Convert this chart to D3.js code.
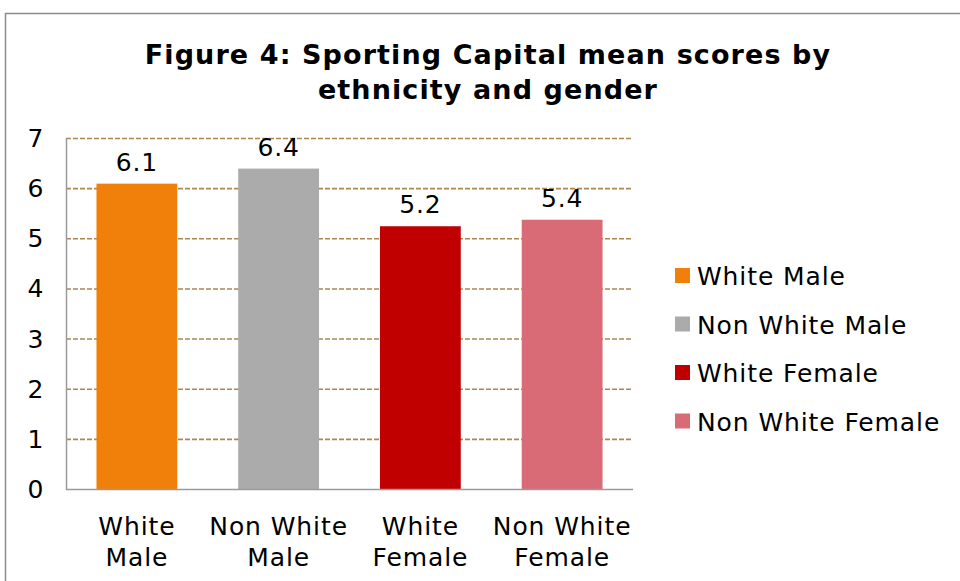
<!DOCTYPE html>
<html>
<head>
<meta charset="utf-8">
<script src="https://cdn.jsdelivr.net/npm/d3@7"></script>
<style>
  body { margin: 0; background: #fff; }
  svg text { font-family: "DejaVu Sans", Verdana, sans-serif; fill: #000; }
</style>
</head>
<body>
<svg id="myGraph" width="960" height="581"></svg>
<script>
// data
var categories = ["White Male", "Non White Male", "White Female", "Non White Female"];
var catLines = [["White", "Male"], ["Non White", "Male"], ["White", "Female"], ["Non White", "Female"]];
var values = [6.09, 6.39, 5.24, 5.37];
var colors = ["#f0800a", "#ababab", "#c00000", "#d96b77"];
var yTicks = [0, 1, 2, 3, 4, 5, 6, 7];
var titleLines = ["Figure 4: Sporting Capital mean scores by", "ethnicity and gender"];

var svg = d3.select("#myGraph");

// outer frame
svg.append("rect")
  .attr("x", 5.5).attr("y", 13.5)
  .attr("width", 970).attr("height", 600)
  .attr("fill", "none").attr("stroke", "#8c8c8c").attr("stroke-width", 1.5);

// title
svg.selectAll("text.title")
  .data(titleLines)
  .enter()
  .append("text")
  .attr("class", "title")
  .attr("x", 488)
  .attr("y", function(d, i){ return 64 + i * 35; })
  .attr("text-anchor", "middle")
  .style("font-weight", "bold")
  .style("font-size", "27px")
  .style("letter-spacing", "1.1px")
  .text(function(d){ return d; });

var pLeft = 66, pRight = 633, pTop = 138, pBottom = 489;

var x = d3.scaleBand().domain(categories).range([pLeft, pRight]).paddingInner(0.43).paddingOuter(0.215);
var y = d3.scaleLinear().domain([0, 7]).range([pBottom, pTop]);

// gridlines
svg.selectAll("line.grid")
  .data(yTicks.filter(function(d){ return d > 0; }))
  .enter()
  .append("line")
  .attr("x1", pLeft).attr("x2", pRight)
  .attr("y1", function(d){ return y(d) + 0.5; })
  .attr("y2", function(d){ return y(d) + 0.5; })
  .attr("stroke", "#ad8750")
  .attr("stroke-width", 1.6)
  .attr("stroke-dasharray", "5,2");

// bars
svg.selectAll("rect.bar")
  .data(values)
  .enter()
  .append("rect")
  .attr("x", function(d, i){ return x(categories[i]); })
  .attr("width", x.bandwidth())
  .attr("y", function(d){ return y(d); })
  .attr("height", function(d){ return y(0) - y(d); })
  .attr("fill", function(d, i){ return colors[i]; });

var txt = function(sel){
  return sel.style("font-size", "25px").style("letter-spacing", "0.9px");
};

// value labels
txt(svg.selectAll("text.val")
  .data(values)
  .enter()
  .append("text")
  .attr("x", function(d, i){ return x(categories[i]) + x.bandwidth() / 2; })
  .attr("y", function(d){ return y(d) - 13; })
  .attr("text-anchor", "middle"))
  .text(function(d){ return d3.format(".1f")(d); });

// axes lines
svg.append("line")
  .attr("x1", pLeft + 0.5).attr("x2", pLeft + 0.5)
  .attr("y1", pTop).attr("y2", pBottom + 1)
  .attr("stroke", "#9a9a9a").attr("stroke-width", 1.5);
svg.append("line")
  .attr("x1", pLeft).attr("x2", pRight)
  .attr("y1", pBottom + 0.5).attr("y2", pBottom + 0.5)
  .attr("stroke", "#9a9a9a").attr("stroke-width", 1.5);

// y tick labels
txt(svg.selectAll("text.ytick")
  .data(yTicks)
  .enter()
  .append("text")
  .attr("x", 36)
  .attr("y", function(d){ return y(d) + 9; })
  .attr("text-anchor", "middle"))
  .text(function(d){ return d; });

// category labels
var cat = txt(svg.selectAll("text.cat")
  .data(catLines)
  .enter()
  .append("text")
  .attr("text-anchor", "middle"));
cat.selectAll("tspan")
  .data(function(d, i){ return d.map(function(s){ return {s: s, i: i}; }); })
  .enter()
  .append("tspan")
  .attr("x", function(d){ return x(categories[d.i]) + x.bandwidth() / 2; })
  .attr("y", function(d, j){ return 535 + j * 31; })
  .text(function(d){ return d.s; });

// legend
var leg = svg.selectAll("g.legend")
  .data(categories)
  .enter()
  .append("g")
  .attr("transform", function(d, i){ return "translate(675," + (268 + i * 48.5) + ")"; });
leg.append("rect")
  .attr("width", 15).attr("height", 15)
  .attr("fill", function(d, i){ return colors[i]; });
txt(leg.append("text")
  .attr("x", 22).attr("y", 17))
  .text(function(d){ return d; });
</script>
</body>
</html>
